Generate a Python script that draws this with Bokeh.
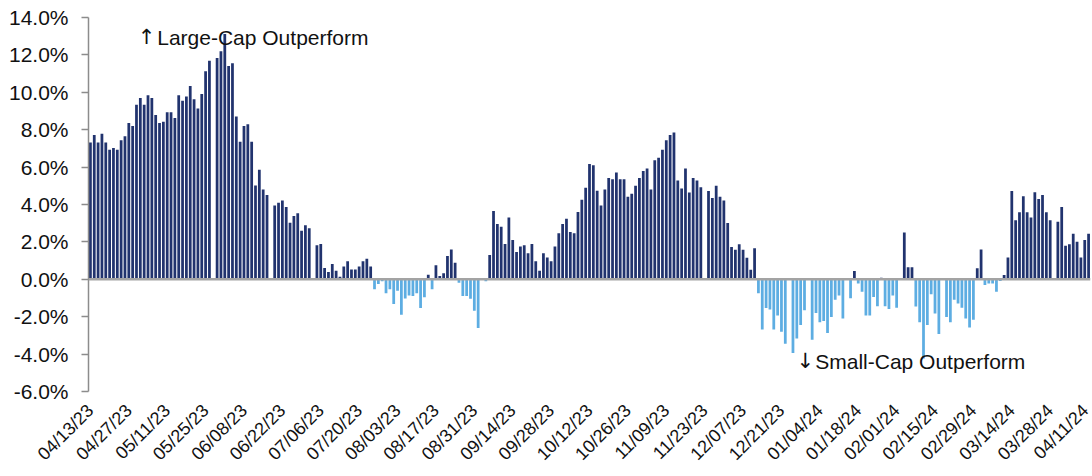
import math
from bokeh.plotting import figure
from bokeh.models import ColumnDataSource, FixedTicker, PrintfTickFormatter, Span, Label, Range1d
from bokeh.embed import file_html
from bokeh.resources import INLINE

# Daily (business-day) spread, % ; None = market holiday (no bar)
values = [
    7.31, 7.72, 7.31, 7.79, 7.31, 6.93, 7.02, 6.93, 7.43, 7.65,
    8.36, 8.20, 9.34, 9.70, 9.34, 9.84, 9.70, 8.79, 8.36, 8.43,
    8.93, 8.93, 8.63, 9.84, 9.55, 9.77, 10.34, 9.63, 9.13, 9.91,
    11.12, 11.69, None, 11.84, 12.19, 13.12, 11.41, 11.55, 8.70, 7.36,
    8.20, 8.29, 7.36, 5.01, 5.86, 4.80, 4.51, None, 3.94, 4.10,
    4.22, 3.87, 3.03, 3.39, 3.53, 2.60, 2.89, 2.73, None, 1.82,
    1.89, 0.61, 0.39, 0.82, 0.46, 0.14, 0.68, 0.96, 0.53, 0.53,
    0.68, 0.96, 1.10, 0.68, -0.53, -0.25, -0.11, -0.75, -0.53, -1.32,
    -0.61, -1.89, -1.03, -0.86, -0.89, -0.75, -1.53, -0.96, 0.25, -0.53,
    0.75, 0.18, 0.32, 1.25, 1.60, 0.89, -0.18, -0.89, -0.89, -1.04,
    -1.68, -2.60, None, -0.11, 1.30, 3.65, 2.96, 2.81, 1.89, 3.31,
    2.10, 1.46, 1.75, 1.82, 1.39, 1.89, 0.96, 0.46, 1.39, 1.17,
    0.96, 1.75, 2.46, 2.96, 3.24, 2.53, 2.46, 3.60, 4.25, 4.89,
    6.17, 6.10, 4.73, 3.95, 4.80, 5.42, 5.35, 5.71, 5.35, 5.35,
    4.42, 4.58, 5.00, 5.42, 5.79, 5.93, 4.80, 6.36, 6.50, 6.93,
    7.43, 7.71, 7.85, 5.28, 4.85, 5.93, 4.64, 5.42, 5.28, 4.92,
    None, 4.72, 4.35, 5.00, 4.42, 4.22, 3.01, 1.73, 1.58, 1.87,
    1.58, 1.15, 0.51, 1.66, -0.75, -2.69, -1.54, -1.62, -2.68, -1.94,
    -2.80, -3.44, None, -3.94, -3.16, -2.44, -1.66, None, -3.23, -1.80,
    -2.30, -2.23, -2.87, -2.01, -1.09, -0.87, -2.09, None, -1.02, 0.45,
    -0.23, -0.66, -1.94, -1.94, -0.94, -1.44, 0.08, -1.44, -1.59, -0.87,
    -1.52, 0.05, 2.50, 0.65, 0.65, -1.46, -2.30, -4.23, -2.45, -0.80,
    -1.83, -2.92, None, -2.01, -2.30, -1.10, -1.30, -1.52, -2.09, -2.58,
    -2.16, 0.59, 1.59, -0.30, -0.23, -0.23, -0.66, -0.09, 0.23, 1.16,
    4.72, 3.16, 3.58, 4.44, 3.58, 3.30, 4.65, 4.30, 4.51, 3.58,
    3.16, None, 3.08, 3.87, 1.80, 1.87, 2.44, 2.01, 1.16, 2.10,
    2.44,
]

tick_labels = [
    "04/13/23", "04/27/23", "05/11/23", "05/25/23", "06/08/23", "06/22/23",
    "07/06/23", "07/20/23", "08/03/23", "08/17/23", "08/31/23", "09/14/23",
    "09/28/23", "10/12/23", "10/26/23", "11/09/23", "11/23/23", "12/07/23",
    "12/21/23", "01/04/24", "01/18/24", "02/01/24", "02/15/24", "02/29/24",
    "03/14/24", "03/28/24", "04/11/24",
]
label_every = 10
y_ticks = [-6, -4, -2, 0, 2, 4, 6, 8, 10, 12, 14]

POS = "#21336E"
NEG = "#5DADE2"
FONT = "Liberation Sans"
ARROW_FONT = "DejaVu Sans"

xs, tops, cols = [], [], []
for i, v in enumerate(values):
    if v is None:
        continue
    xs.append(i)
    tops.append(v)
    cols.append(POS if v >= 0 else NEG)
src = ColumnDataSource(dict(x=xs, top=tops, color=cols))

n = len(values)
p = figure(width=1092, height=476, output_backend="svg", toolbar_location=None,
           x_range=Range1d(-0.5, n - 0.5), y_range=Range1d(-6, 14),
           min_border_left=88, min_border_right=2, min_border_top=17, min_border_bottom=85)
p.outline_line_color = None
p.xgrid.grid_line_color = None
p.ygrid.grid_line_color = None
p.background_fill_color = "white"
p.border_fill_color = "white"

p.vbar(x="x", top="top", bottom=0, width=0.72, color="color", line_color=None, source=src)

p.add_layout(Span(location=0, dimension="width", line_color="#a3a3a3", line_width=2.5))

# y axis
p.yaxis.ticker = FixedTicker(ticks=y_ticks)
p.yaxis.formatter = PrintfTickFormatter(format="%.1f%%")
p.yaxis.axis_line_color = "#8c8c8c"
p.yaxis.axis_line_width = 1.5
p.yaxis.major_tick_line_color = "#8c8c8c"
p.yaxis.major_tick_line_width = 1.5
p.yaxis.major_tick_out = 7
p.yaxis.major_tick_in = 0
p.yaxis.minor_tick_line_color = None
p.yaxis.major_label_text_font = FONT
p.yaxis.major_label_text_font_size = "21px"
p.yaxis.major_label_text_color = "#111111"
p.yaxis.major_label_standoff = 13

# x axis
xt = list(range(0, n, label_every))
p.xaxis.ticker = FixedTicker(ticks=xt)
p.xaxis.major_label_overrides = {t: lab for t, lab in zip(xt, tick_labels)}
p.xaxis.major_label_orientation = math.pi / 4
p.xaxis.axis_line_color = None
p.xaxis.major_tick_line_color = None
p.xaxis.minor_tick_line_color = None
p.xaxis.major_label_text_font = FONT
p.xaxis.major_label_text_font_size = "18px"
p.xaxis.major_label_text_color = "#111111"
p.xaxis.major_label_standoff = 10

ann_style = dict(text_font_size="21px", text_color="#111111", text_baseline="alphabetic")
p.add_layout(Label(x=12.3, y=12.94, text="\u2191", text_font=ARROW_FONT, **ann_style))
p.add_layout(Label(x=17.4, y=12.94, text="Large-Cap Outperform", text_font=FONT, **ann_style))
p.add_layout(Label(x=183.9, y=-4.39, text="\u2193", text_font=ARROW_FONT, **ann_style))
p.add_layout(Label(x=188.8, y=-4.39, text="Small-Cap Outperform", text_font=FONT, **ann_style))

open("out.html", "w").write(file_html(p, INLINE))
